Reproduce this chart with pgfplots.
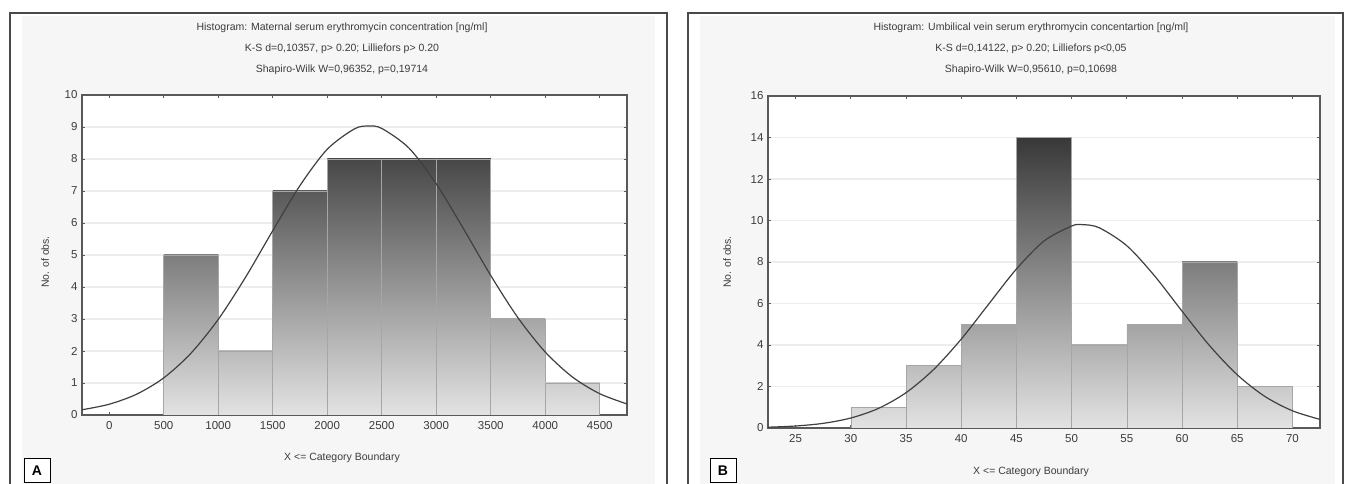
\documentclass[border=0pt]{standalone}
\usepackage{fontspec}
\setmainfont{Liberation Sans}
\usepackage{pgfplots}
\pgfplotsset{compat=1.18}

\definecolor{panel}{HTML}{F6F6F6}
\definecolor{frame}{HTML}{4A4A4A}
\definecolor{txt}{HTML}{3C3C3C}

\pgfplotsset{
  histo/.style={
    scale only axis, anchor=south west,
    axis background/.style={fill=white},
    axis line style={line width=1.4pt, draw=black!65},
    ymajorgrids, grid style={line width=1.2pt, draw=black!7},
    tick align=inside, major tick length=3pt,
    tick style={line width=0.8pt, draw=black!65},
    tick label style={font=\fontsize{11.5}{13}\selectfont, text=txt},
    /pgf/number format/1000 sep={},
    /pgf/number format/assume math mode=true,
    xticklabel style={yshift=-3pt},
    yticklabel style={xshift=-1pt},
  },
  bin/.style={ybar interval, draw=black!35, line width=0.6pt,
    bottom color=black!11, top color=black!#1},
  fit/.style={smooth, draw=black!75, line width=1.2pt, no markers},
}

\begin{document}
\begin{tikzpicture}
\path[use as bounding box] (0,0) rectangle (1352pt,484pt);

% panels
\fill[panel] (22pt,0pt) rectangle (655pt,468pt);
\fill[panel] (700pt,0pt) rectangle (1335pt,468pt);
\draw[frame, line width=1.5pt] (10pt,-2pt) -- (10pt,471pt) -- (667pt,471pt) -- (667pt,-2pt);
\draw[frame, line width=1.5pt] (688pt,-2pt) -- (688pt,471pt) -- (1343pt,471pt) -- (1343pt,-2pt);

% A: maternal serum
\begin{axis}[histo, at={(82pt,69pt)}, width=545pt, height=320pt,
  xmin=-250, xmax=4750, ymin=0, ymax=10,
  xtick={0,500,...,4500}, ytick={0,1,...,10}]
\addplot[bin=51] coordinates {(500,5) (1000,5)};
\addplot[bin=27] coordinates {(1000,2) (1500,2)};
\addplot[bin=65] coordinates {(1500,7) (2000,7)};
\addplot[bin=72] coordinates {(2000,8) (2500,8)};
\addplot[bin=72] coordinates {(2500,8) (3000,8)};
\addplot[bin=72] coordinates {(3000,8) (3500,8)};
\addplot[bin=35] coordinates {(3500,3) (4000,3)};
\addplot[bin=19] coordinates {(4000,1) (4500,1)};
\addplot[fit] coordinates {
  (-250,0.163) (0,0.337) (250,0.648) (500,1.160) (750,1.932) (1000,2.988)
  (1250,4.302) (1500,5.760) (1750,7.171) (2000,8.304) (2250,8.942) (2380,9.03)
  (2500,8.955) (2750,8.340) (3000,7.224) (3250,5.819) (3500,4.359) (3750,3.037)
  (4000,1.967) (4250,1.186) (4500,0.665) (4750,0.346)};
\end{axis}

% B: umbilical vein serum
\begin{axis}[histo, at={(768pt,56pt)}, width=552pt, height=332pt,
  xmin=22.5, xmax=72.5, ymin=0, ymax=16,
  xtick={25,30,...,70}, ytick={0,2,...,16}]
\addplot[bin=16] coordinates {(30,1) (35,1)};
\addplot[bin=26] coordinates {(35,3) (40,3)};
\addplot[bin=36] coordinates {(40,5) (45,5)};
\addplot[bin=78] coordinates {(45,14) (50,14)};
\addplot[bin=31] coordinates {(50,4) (55,4)};
\addplot[bin=36] coordinates {(55,5) (60,5)};
\addplot[bin=51] coordinates {(60,8) (65,8)};
\addplot[bin=21] coordinates {(65,2) (70,2)};
\addplot[fit] coordinates {
  (22.5,0.038) (25,0.096) (27.5,0.224) (30,0.481) (32.5,0.943) (35,1.701)
  (37.5,2.817) (40,4.282) (42.5,5.978) (45,7.661) (47.5,9.012) (50,9.733)
  (51,9.8) (52.5,9.650) (55,8.785) (57.5,7.341) (60,5.631) (62.5,3.966)
  (65,2.566) (67.5,1.523) (70,0.830) (72.5,0.415)};
\end{axis}

% titles and labels
\begin{scope}[every node/.style={text=txt, font=\fontsize{10.5}{21}\selectfont, align=center}]
\node at (342pt,435pt) {Histogram: Maternal serum erythromycin concentration [ng/ml]\\
  K-S d=0,10357, p> 0.20; Lilliefors p> 0.20\\Shapiro-Wilk W=0,96352, p=0,19714};
\node at (1031pt,435pt) {Histogram: Umbilical vein serum erythromycin concentartion [ng/ml]\\
  K-S d=0,14122, p> 0.20; Lilliefors p<0,05\\Shapiro-Wilk W=0,95610, p=0,10698};
\node at (342pt,26pt) {X <= Category Boundary};
\node at (1031pt,12pt) {X <= Category Boundary};
\node[rotate=90] at (45pt,222pt) {No. of obs.};
\node[rotate=90] at (727pt,222pt) {No. of obs.};
\end{scope}

\node[draw=black, fill=white, line width=1pt, font=\bfseries\fontsize{14}{14}\selectfont,
  minimum width=26pt, minimum height=24pt, inner sep=0pt] at (37pt,13pt) {A};
\node[draw=black, fill=white, line width=1pt, font=\bfseries\fontsize{14}{14}\selectfont,
  minimum width=26pt, minimum height=24pt, inner sep=0pt] at (723pt,13pt) {B};
\end{tikzpicture}
\end{document}
